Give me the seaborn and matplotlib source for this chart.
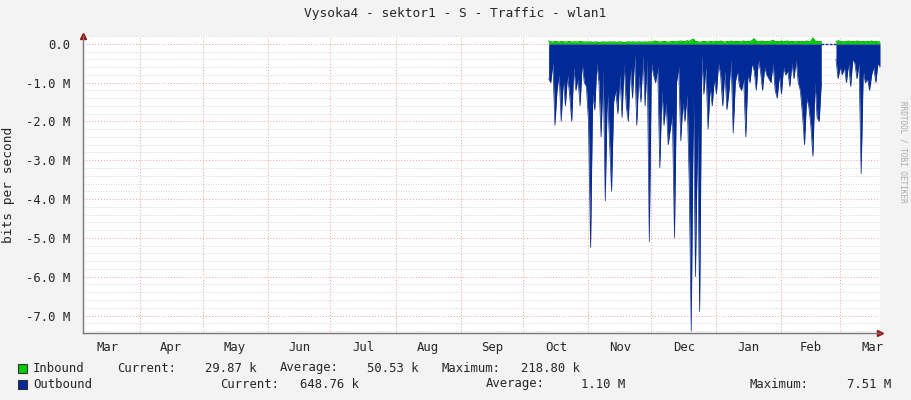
import numpy as np
import pandas as pd
import matplotlib
matplotlib.use("Agg")
import matplotlib.pyplot as plt
import seaborn as sns

# Days counted from 1 March of the first year
month_labels = ["Mar", "Apr", "May", "Jun", "Jul", "Aug", "Sep", "Oct", "Nov", "Dec", "Jan", "Feb", "Mar"]
month_starts = [0, 31, 61, 92, 122, 153, 184, 214, 245, 275, 306, 337, 365, 396]

seg1_start = 226
outbound_1 = [0.9,1.0,0.5,2.1,1.2,0.8,2.0,0.9,1.6,0.8,
              1.3,2.0,0.6,1.2,0.9,1.6,0.5,1.0,1.1,2.0,
              5.25,1.3,1.7,0.5,1.0,2.4,0.7,4.05,1.2,2.46,
              3.8,1.5,1.2,1.8,0.8,1.9,0.5,1.6,2.0,0.6,
              1.4,0.3,2.1,0.8,1.5,0.3,1.6,0.4,5.1,0.5,
              0.8,1.0,0.6,3.2,1.2,2.1,1.5,2.6,2.2,1.8,
              5.0,1.0,0.6,2.5,1.5,2.0,1.3,3.5,7.4,1.2,
              6.0,2.2,6.9,0.3,1.3,0.6,2.2,1.1,1.6,0.9,
              1.3,0.5,0.8,1.6,0.7,1.7,1.2,0.4,2.3,1.0,
              0.7,1.1,1.2,0.9,2.4,0.8,1.0,0.5,0.7,1.2,
              0.4,0.7,1.2,0.6,0.8,0.9,1.0,0.5,1.2,1.4,
              0.8,1.3,0.6,0.8,0.7,1.1,0.5,0.9,0.4,1.0,
              1.2,1.8,2.6,1.4,1.6,2.1,2.9,1.0,1.9,2.0,1.0]
inbound_1 = [0.07,0.05,0.04,0.06,0.05,0.04,0.06,0.05,0.04,0.05,
             0.06,0.04,0.05,0.05,0.04,0.06,0.05,0.04,0.05,0.04,
             0.05,0.04,0.04,0.05,0.03,0.04,0.05,0.04,0.04,0.05,
             0.04,0.05,0.04,0.04,0.05,0.04,0.03,0.04,0.05,0.04,
             0.05,0.04,0.04,0.05,0.04,0.04,0.05,0.04,0.05,0.04,
             0.06,0.07,0.05,0.04,0.05,0.06,0.05,0.04,0.05,0.06,
             0.05,0.05,0.06,0.07,0.06,0.05,0.08,0.06,0.09,0.12,
             0.06,0.05,0.04,0.05,0.06,0.05,0.04,0.06,0.05,0.05,
             0.06,0.05,0.07,0.05,0.04,0.06,0.05,0.07,0.05,0.06,
             0.06,0.05,0.05,0.07,0.05,0.06,0.06,0.08,0.13,0.06,
             0.05,0.06,0.07,0.05,0.06,0.05,0.07,0.09,0.05,0.06,
             0.05,0.07,0.05,0.06,0.07,0.05,0.06,0.05,0.05,0.06,
             0.05,0.06,0.05,0.07,0.05,0.06,0.15,0.07,0.06,0.05,0.06]

seg2_start = 363
outbound_2 = [0.4,0.9,0.6,0.8,0.6,1.0,0.5,1.1,0.4,0.5,0.9,
              0.5,3.35,0.7,1.0,0.9,1.2,0.8,0.6,1.0,0.5,0.6]
inbound_2 = [0.05,0.08,0.06,0.05,0.05,0.06,0.07,0.05,0.06,0.05,0.07,
             0.06,0.05,0.06,0.05,0.06,0.05,0.07,0.05,0.06,0.05,0.05]

x_min, x_max = 4, 384
y_min, y_max = -7.45, 0.2

sns.set_style("white")
plt.rcParams['font.family'] = ['DejaVu Sans Mono']
FS = 8.8
fig = plt.figure(figsize=(9.11, 4.0), dpi=100, facecolor="#F3F3F3")
ax = fig.add_axes([83/911, 67/400, (880-83)/911, (333-36)/400])
ax.set_facecolor("white")

def seg(start, out, inn):
    d = np.arange(start, start + len(out))
    return pd.DataFrame({"day": d, "out": -np.array(out), "in": np.array(inn)})

for df in (seg(seg1_start, outbound_1, inbound_1), seg(seg2_start, outbound_2, inbound_2)):
    ax.fill_between(df["day"], df["out"], 0, color="#002A97", lw=0, zorder=2)
    ax.fill_between(df["day"], 0, df["in"], color="#00CC00", lw=0, zorder=2)
    sns.lineplot(x=df["day"], y=df["out"], ax=ax, color="#0A2A8A", lw=0.5, zorder=3)
    sns.lineplot(x=df["day"], y=df["in"], ax=ax, color="#00B000", lw=0.8, zorder=3)
ax.plot([356, 363], [0, 0], ls=(0, (2, 1)), color="#002A97", lw=1)

ax.set_xlim(x_min, x_max)
ax.set_ylim(y_min, y_max)

# grid
for v in np.arange(-7.4, 0.21, 0.2):
    if abs(v - round(v)) > 1e-6:
        ax.axhline(v, color="#C8C8C8", lw=0.6, ls=(0, (1, 2)), zorder=0.5)
for v in range(-7, 1):
    ax.axhline(v, color="#F0A0A0", lw=0.7, ls=(0, (1, 2)), zorder=0.5)
for m in month_starts[1:]:
    if x_min < m < x_max:
        ax.axvline(m, color="#F0A0A0", lw=0.7, ls=(0, (1, 2)), zorder=0.5)

yt = list(range(0, -8, -1))
ax.set_yticks(yt)
ax.set_yticklabels(["0.0"] + [f"{v}.0 M" for v in yt[1:]], fontsize=FS)
ax.set_xticks([m for m in month_starts if x_min < m < x_max])
ax.set_xticklabels([])
centers = [(month_starts[i] + month_starts[i+1]) / 2 for i in range(len(month_labels))]
ax.set_xticks(centers, minor=True)
ax.set_xticklabels(month_labels, minor=True, fontsize=FS)
ax.tick_params(axis="x", which="minor", length=0, pad=6)
ax.tick_params(axis="x", which="major", length=3, color="#CC9999")
ax.tick_params(axis="y", length=3, color="#CC9999", pad=6)
for s in ["top", "right"]:
    ax.spines[s].set_visible(False)
for s in ["left", "bottom"]:
    ax.spines[s].set_color("#777777")
    ax.spines[s].set_linewidth(1)
ax.plot([1.0], [0], marker=">", color="#A01010", ms=5, transform=ax.transAxes, clip_on=False)
ax.plot([0], [1.0], marker="^", color="#A01010", ms=5, transform=ax.transAxes, clip_on=False)
ax.set_ylabel("bits per second", fontsize=FS + 0.5, labelpad=8)
ax.set_xlabel("")

fig.text(455/911, 1 - 14/400, "Vysoka4 - sektor1 - S - Traffic - wlan1", ha="center", va="center", fontsize=FS + 0.5)
fig.text(903/911, 0.62, "RRDTOOL / TOBI OETIKER", rotation=270, ha="center", va="center", fontsize=5.5, color="#AAAAAA")

def legrow(y, color, items):
    fig.patches.append(plt.Rectangle((18/911, 1 - (y+5)/400), 9/911, 9/400, transform=fig.transFigure,
                                     facecolor=color, edgecolor="#333333", lw=0.8))
    for x, t in items:
        fig.text(x/911, 1 - y/400, t, ha="left", va="center", fontsize=FS)

legrow(368, "#00CC00", [(33, "Inbound"), (117, "Current:"), (205, "29.87 k"), (280, "Average:"),
                        (367, "50.53 k"), (441, "Maximum:"), (521, "218.80 k")])
legrow(384, "#002A97", [(33, "Outbound"), (220, "Current:"), (300, "648.76 k"), (486, "Average:"),
                        (581, "1.10 M"), (750, "Maximum:"), (847, "7.51 M")])

fig.savefig("out.png", dpi=100, facecolor=fig.get_facecolor())
